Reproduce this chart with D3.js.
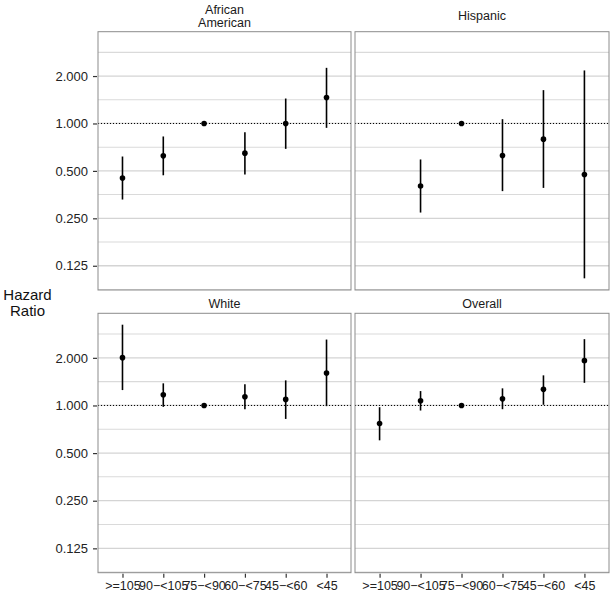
<!DOCTYPE html>
<html>
<head>
<meta charset="utf-8">
<script src="https://cdn.jsdelivr.net/npm/d3@7"></script>
<style>
  body { margin: 0; background: #fff; }
  svg { display: block; font-family: "Liberation Sans", Arial, Helvetica, sans-serif; }
</style>
</head>
<body>
<svg id="chart" width="614" height="595"></svg>
<script>
// ---- data ----
const categories = [">=105", "90−<105", "75−<90", "60−<75", "45−<60", "<45"];
const groups = ["African American", "Hispanic", "White", "Overall"];
const yTicks = [0.125, 0.25, 0.5, 1, 2];
const yTickLabels = ["0.125", "0.250", "0.500", "1.000", "2.000"];

const aaEst = [0.451, 0.623, 1.0, 0.648, 1.0, 1.462];
const aaLo  = [0.329, 0.469, null, 0.474, 0.690, 0.938];
const aaHi  = [0.617, 0.827, null, 0.880, 1.440, 2.255];

const hiEst = [null, 0.401, 1.0, 0.626, 0.795, 0.474];
const hiLo  = [null, 0.272, null, 0.372, 0.390, 0.104];
const hiHi  = [null, 0.591, null, 1.065, 1.628, 2.171];

const whEst = [2.006, 1.168, 1.0, 1.134, 1.092, 1.604];
const whLo  = [1.251, 0.980, null, 0.947, 0.822, 0.990];
const whHi  = [3.240, 1.380, null, 1.360, 1.441, 2.610];

const ovEst = [0.768, 1.070, 1.0, 1.101, 1.264, 1.920];
const ovLo  = [0.602, 0.929, null, 0.947, 1.010, 1.390];
const ovHi  = [0.975, 1.233, null, 1.283, 1.550, 2.625];

const seriesEst = [aaEst, hiEst, whEst, ovEst];
const seriesLo = [aaLo, hiLo, whLo, ovLo];
const seriesHi = [aaHi, hiHi, whHi, ovHi];

// ---- layout ----
const svg = d3.select("#chart");
const colX = [[98, 351], [355, 609]];
const rowY = [[31.7, 290], [313.3, 572.7]];
const yDomain = [0.0877, 3.824];
const minorBreaks = [0.0884, 0.177, 0.354, 0.707, 1.414, 2.828];

const stripLines = [["African", "American"], ["Hispanic"], ["White"], ["Overall"]];
const stripBase = [[14, 26.6], [20], [308], [308]];

groups.forEach((g, i) => {
  const c = i % 2, r = Math.floor(i / 2);
  const [x0, x1] = colX[c];
  const [y0, y1] = rowY[r];
  const x = d3.scalePoint().domain(categories).range([x0, x1]).padding(0.6);
  const y = d3.scaleLog().base(2).domain(yDomain).range([y1, y0]);
  const p = svg.append("g");

  p.append("rect").attr("x", x0).attr("y", y0).attr("width", x1 - x0).attr("height", y1 - y0)
    .attr("fill", "#fff");

  // grid
  p.selectAll(".minor").data(minorBreaks.filter(v => v >= yDomain[0] && v <= yDomain[1])).enter()
    .append("line").attr("x1", x0).attr("x2", x1)
    .attr("y1", d => y(d)).attr("y2", d => y(d))
    .attr("stroke", "#dadada").attr("stroke-width", 1.1);
  p.selectAll(".major").data(yTicks).enter()
    .append("line").attr("x1", x0).attr("x2", x1)
    .attr("y1", d => y(d)).attr("y2", d => y(d))
    .attr("stroke", "#d4d4d4").attr("stroke-width", 1.3);

  // reference line at 1
  p.append("line").attr("x1", x0).attr("x2", x1).attr("y1", y(1)).attr("y2", y(1))
    .attr("stroke", "#000").attr("stroke-width", 1).attr("stroke-dasharray", "1,2");

  // error bars
  const est = seriesEst[i], lo = seriesLo[i], hi = seriesHi[i];
  const idx = d3.range(categories.length);
  p.selectAll(".eb").data(idx.filter(k => lo[k] != null && hi[k] != null)).enter()
    .append("line")
    .attr("x1", k => x(categories[k])).attr("x2", k => x(categories[k]))
    .attr("y1", k => y(lo[k])).attr("y2", k => y(hi[k]))
    .attr("stroke", "#000").attr("stroke-width", 1.6);
  p.selectAll(".pt").data(idx.filter(k => est[k] != null)).enter()
    .append("circle")
    .attr("cx", k => x(categories[k])).attr("cy", k => y(est[k]))
    .attr("r", 2.8).attr("fill", "#000");

  // border
  p.append("rect").attr("x", x0).attr("y", y0).attr("width", x1 - x0).attr("height", y1 - y0)
    .attr("fill", "none").attr("stroke", "#8c8c8c").attr("stroke-width", 1);

  // strip title
  stripLines[i].forEach((t, j) => {
    p.append("text").attr("x", (x0 + x1) / 2).attr("y", stripBase[i][j])
      .attr("text-anchor", "middle").attr("font-size", 12.5).attr("fill", "#1a1a1a").text(t);
  });

  // y axis on left column
  if (c === 0) {
    const ax = d3.axisLeft(y).tickValues(yTicks).tickFormat((d, k) => yTickLabels[k])
      .tickSize(4).tickPadding(5);
    const ga = p.append("g").attr("transform", `translate(${x0 - 1},0)`).call(ax);
    ga.select(".domain").remove();
    ga.selectAll(".tick line").attr("stroke", "#333").attr("stroke-width", 1.2);
    ga.selectAll(".tick text").attr("font-size", 13).attr("fill", "#222")
      .attr("font-family", "Liberation Sans, Arial, sans-serif");
  }
  // x axis on bottom row
  if (r === 1) {
    const ax = d3.axisBottom(x).tickSize(4).tickPadding(3);
    const ga = p.append("g").attr("transform", `translate(0,${y1 + 1})`).call(ax);
    ga.select(".domain").remove();
    ga.selectAll(".tick line").attr("stroke", "#333").attr("stroke-width", 1.2);
    ga.selectAll(".tick text").attr("font-size", 12.5).attr("fill", "#222")
      .attr("font-family", "Liberation Sans, Arial, sans-serif");
  }
});

// y axis title
svg.append("text").attr("x", 27.5).attr("y", 300).attr("text-anchor", "middle")
  .attr("font-size", 15).attr("fill", "#111").text("Hazard");
svg.append("text").attr("x", 27.5).attr("y", 315.5).attr("text-anchor", "middle")
  .attr("font-size", 15).attr("fill", "#111").text("Ratio");
</script>
</body>
</html>
